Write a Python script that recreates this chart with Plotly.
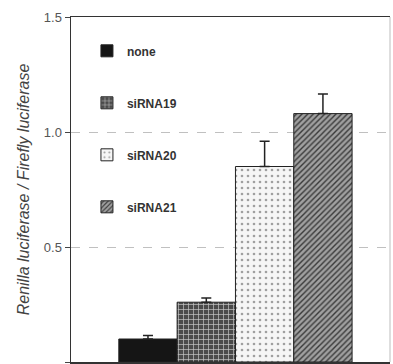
import plotly.graph_objects as go

categories = ["none", "siRNA19", "siRNA20", "siRNA21"]
positions = [1, 2, 3, 4]
values = [0.10, 0.26, 0.85, 1.08]
errors = [0.015, 0.018, 0.11, 0.085]
tick_vals = [0, 0.5, 1.0, 1.5]
tick_text = ["0", "0.5", "1.0", "1.5"]

styles = [
    dict(color="#151515", pattern=dict(shape="", )),
    dict(color="#4a4a4a", pattern=dict(shape="+", fgcolor="#c8c8c8", bgcolor="#4a4a4a", size=5, solidity=0.25, fillmode="replace")),
    dict(color="#f4f4f4", pattern=dict(shape=".", fgcolor="#a0a0a0", bgcolor="#f6f6f6", size=6, solidity=0.15, fillmode="replace")),
    dict(color="#8a8a8a", pattern=dict(shape="/", fgcolor="#3a3a3a", bgcolor="#a0a0a0", size=4, solidity=0.35, fillmode="replace")),
]

fig = go.Figure()
for i, name in enumerate(categories):
    fig.add_trace(go.Bar(
        x=[positions[i]], y=[values[i]], name=name, width=1.0,
        legendgroup=name,
        marker=dict(color=styles[i]["color"], pattern=styles[i]["pattern"],
                    line=dict(color="#222", width=1)),
        error_y=dict(type="data", symmetric=False, array=[errors[i]], arrayminus=[0],
                     color="#222", thickness=1.5, width=5),
    ))

fig.add_shape(type="line", xref="paper", yref="paper", x0=1, x1=1, y0=0, y1=1,
              line=dict(color="#bdbdbd", width=1))

fig.update_layout(
    width=393, height=364,
    margin=dict(l=71, r=3, t=17, b=2),
    paper_bgcolor="white", plot_bgcolor="white",
    font=dict(family="Liberation Sans, Arial, sans-serif", color="#333"),
    barmode="overlay",
    showlegend=True,
    legend=dict(x=0.05, y=0.944, xanchor="left", yanchor="top",
                font=dict(size=12, color="#333", family="Liberation Sans, Arial, sans-serif", weight="bold"),
                tracegroupgap=33, bgcolor="rgba(0,0,0,0)", itemclick=False),
    xaxis=dict(range=[-0.32, 5.15], showticklabels=False, ticks="", showgrid=False,
               showline=True, linecolor="#333", linewidth=1.5, mirror=True, zeroline=False,
               fixedrange=True, automargin=False),
    yaxis=dict(range=[0, 1.5], tickvals=tick_vals, ticktext=tick_text, ticks="outside",
               ticklen=5, tickcolor="#444", tickfont=dict(size=13, color="#555"),
               showline=True, linecolor="#333", linewidth=1.5, mirror=False,
               showgrid=True, gridcolor="#c0c0c0", griddash="dash", gridwidth=1,
               zeroline=False, automargin=False,
               title=dict(text="<i>Renilla luciferase / Firefly luciferase</i>",
                          font=dict(size=16, color="#444"), standoff=10)),
)
fig.write_html("out.html", config={"displayModeBar": False, "staticPlot": True},
               post_script="document.body.style.margin='0';document.body.style.overflow='hidden';")
